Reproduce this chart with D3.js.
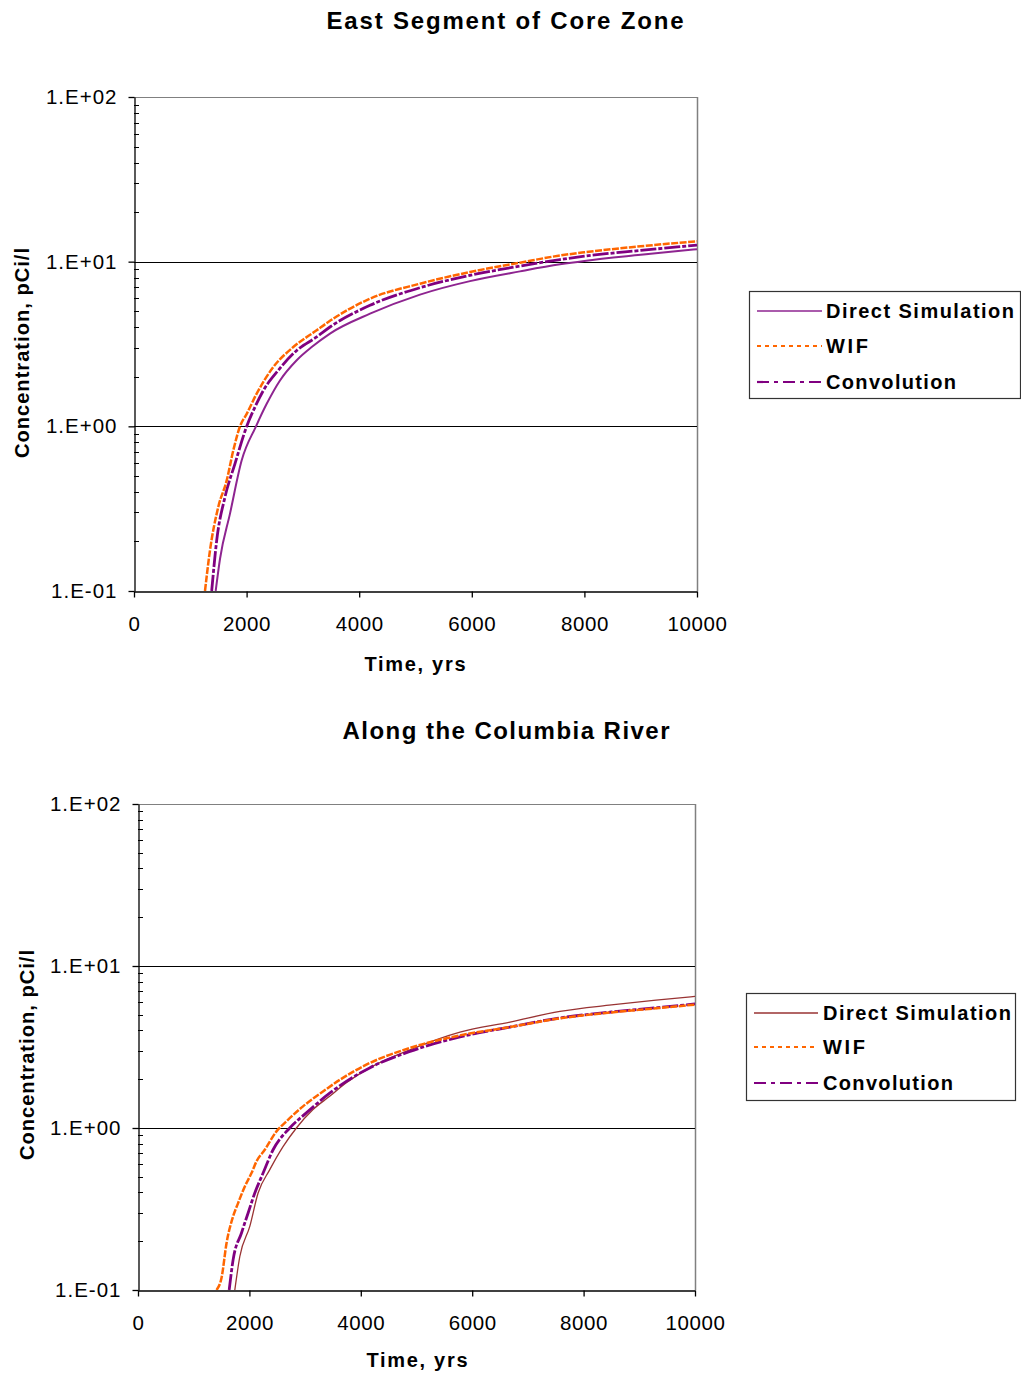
<!DOCTYPE html>
<html>
<head>
<meta charset="utf-8">
<script src="https://cdn.jsdelivr.net/npm/d3@7"></script>
<style>
  html, body { margin: 0; padding: 0; background: #fff; }
  svg { display: block; font-family: "Liberation Sans", Arial, sans-serif; }
</style>
</head>
<body>
<svg id="chart" width="1021" height="1375"></svg>
<script>
// ---------------- DATA ----------------
const xTicks = [0, 2000, 4000, 6000, 8000, 10000];
const yTicks = [0.1, 1, 10, 100];
const seriesNames = ["Direct Simulation", "WIF", "Convolution"];

// East Segment of Core Zone
const eastDirectT = [1451, 1528, 1705, 1913, 2167, 2357, 2593, 2890, 3156, 3481, 4192, 5080, 5968, 6856, 7567, 8000, 9000, 10000];
const eastDirectC = [0.1, 0.157, 0.295, 0.622, 1.0, 1.37, 1.90, 2.52, 3.03, 3.66, 4.83, 6.31, 7.62, 8.73, 9.63, 10.1, 11.0, 11.9];
const eastWifT = [1261, 1350, 1497, 1647, 1764, 1883, 2002, 2179, 2474, 2829, 3245, 3451, 4192, 5080, 5968, 6856, 7567, 8000, 9000, 10000];
const eastWifC = [0.1, 0.177, 0.324, 0.470, 0.715, 1.0, 1.19, 1.58, 2.29, 3.03, 3.83, 4.30, 5.96, 7.35, 8.65, 9.86, 10.9, 11.4, 12.4, 13.3];
const eastConvT = [1380, 1469, 1616, 1794, 2002, 2149, 2297, 2563, 2890, 3245, 3481, 4192, 5080, 5968, 6856, 7567, 8000, 9000, 10000];
const eastConvC = [0.1, 0.203, 0.372, 0.594, 1.0, 1.31, 1.65, 2.19, 2.89, 3.49, 4.01, 5.43, 6.95, 8.26, 9.40, 10.3, 10.8, 11.7, 12.6];

// Along the Columbia River
const riverDirectT = [1738, 1828, 2007, 2156, 2366, 2604, 2844, 3142, 3441, 3740, 4158, 4883, 5781, 6679, 7576, 8500, 9300, 10000];
const riverDirectC = [0.1, 0.161, 0.247, 0.397, 0.553, 0.767, 1.0, 1.30, 1.57, 1.90, 2.35, 3.04, 3.91, 4.51, 5.25, 5.75, 6.15, 6.49];
const riverWifT = [1410, 1500, 1590, 1708, 1797, 1918, 2038, 2127, 2276, 2486, 2665, 2963, 3321, 3679, 4099, 4883, 5781, 6679, 7576, 8500, 9300, 10000];
const riverWifC = [0.1, 0.119, 0.195, 0.285, 0.344, 0.436, 0.527, 0.622, 0.734, 0.953, 1.10, 1.36, 1.68, 2.04, 2.46, 3.12, 3.73, 4.20, 4.75, 5.17, 5.48, 5.78];
const riverConvT = [1637, 1708, 1858, 1977, 2097, 2246, 2425, 2724, 3023, 3441, 3740, 4158, 4883, 5781, 6679, 7576, 8500, 9300, 10000];
const riverConvC = [0.1, 0.154, 0.225, 0.299, 0.397, 0.527, 0.734, 1.0, 1.24, 1.64, 1.94, 2.35, 2.97, 3.65, 4.20, 4.78, 5.20, 5.52, 5.83];

const zip = (t, c) => t.map((v, i) => ({ t: v, c: c[i] }));

// ---------------- LAYOUT ----------------
const charts = [
  {
    title: "East Segment of Core Zone", titleX: 505, titleY: 29, titleLen: 357,
    x0: 134, x1: 697, yTop: 97, yBot: 591,
    xTitleX: 415, xTitleY: 671, yTitleX: 29, yTitleY: 353,
    legend: { x: 749, y: 291, w: 271, h: 107, lx0: 757, lx1: 822, tx: 826, rows: [311, 346, 382] },
    series: [
      { name: seriesNames[0], data: zip(eastDirectT, eastDirectC), color: "#8e2490", width: 2.0, dash: null, legDash: null },
      { name: seriesNames[1], data: zip(eastWifT, eastWifC), color: "#ff6600", width: 2.5, dash: "7,1.5", legDash: "4,4" },
      { name: seriesNames[2], data: zip(eastConvT, eastConvC), color: "#800080", width: 2.8, dash: "16,2,4,2", legDash: "12,5,4,5" }
    ]
  },
  {
    title: "Along the Columbia River", titleX: 506, titleY: 739, titleLen: 327,
    x0: 138, x1: 695, yTop: 804, yBot: 1290,
    xTitleX: 417, xTitleY: 1367, yTitleX: 34, yTitleY: 1055,
    legend: { x: 746, y: 993, w: 269, h: 107, lx0: 754, lx1: 818, tx: 823, rows: [1013, 1047, 1083] },
    series: [
      { name: seriesNames[0], data: zip(riverDirectT, riverDirectC), color: "#993333", width: 1.3, dash: null, legDash: null },
      { name: seriesNames[1], data: zip(riverWifT, riverWifC), color: "#ff6600", width: 2.5, dash: "7,1.5", legDash: "4,4" },
      { name: seriesNames[2], data: zip(riverConvT, riverConvC), color: "#800080", width: 2.8, dash: "16,2,4,2", legDash: "12,5,4,5" }
    ]
  }
];

const svg = d3.select("#chart");

function expLabel(v) {
  const e = Math.round(Math.log10(v));
  const s = e < 0 ? "-" : "+";
  return "1.E" + s + String(Math.abs(e)).padStart(2, "0");
}

charts.forEach((ch, ci) => {
  const x = d3.scaleLinear().domain([0, 10000]).range([ch.x0, ch.x1]);
  const y = d3.scaleLog().domain([0.1, 100]).range([ch.yBot, ch.yTop]);
  const g = svg.append("g");

  // title
  g.append("text")
    .attr("x", ch.titleX).attr("y", ch.titleY)
    .attr("text-anchor", "middle")
    .attr("font-size", 24).attr("font-weight", "bold")
    .attr("textLength", ch.titleLen).attr("lengthAdjust", "spacing")
    .text(ch.title);

  // clip
  const clipId = "clip" + ci;
  svg.append("clipPath").attr("id", clipId)
    .append("rect").attr("x", ch.x0).attr("y", ch.yTop)
    .attr("width", ch.x1 - ch.x0).attr("height", ch.yBot - ch.yTop);

  // plot frame: top & right gray
  g.append("line").attr("x1", ch.x0).attr("x2", ch.x1).attr("y1", y(100) + 0.5).attr("y2", y(100) + 0.5)
    .attr("stroke", "#808080").attr("stroke-width", 1.2);
  g.append("line").attr("x1", ch.x1 + 0.5).attr("x2", ch.x1 + 0.5).attr("y1", ch.yTop).attr("y2", ch.yBot)
    .attr("stroke", "#808080").attr("stroke-width", 1.5);

  // gridlines
  g.selectAll(".grid").data([1, 10]).enter().append("line")
    .attr("x1", ch.x0).attr("x2", ch.x1)
    .attr("y1", d => Math.round(y(d)) + 0.5).attr("y2", d => Math.round(y(d)) + 0.5)
    .attr("stroke", "#000").attr("stroke-width", 1);

  // series
  const line = d3.line().x(d => x(d.t)).y(d => y(d.c)).curve(d3.curveMonotoneX);
  const order = [0, 2, 1];
  order.forEach(si => {
    const s = ch.series[si];
    g.append("path").datum(s.data)
      .attr("clip-path", "url(#" + clipId + ")")
      .attr("fill", "none").attr("stroke", s.color)
      .attr("stroke-width", s.width)
      .attr("stroke-dasharray", s.dash)
      .attr("d", line);
  });

  // x axis
  const xAxis = d3.axisBottom(x).tickValues(xTicks).tickFormat(d3.format("d"))
    .tickSizeInner(6).tickSizeOuter(0).tickPadding(19);
  const xa = g.append("g").attr("transform", `translate(0,${ch.yBot + 0.5})`).call(xAxis);
  xa.select(".domain").attr("stroke", "#000").attr("stroke-width", 1.3);
  xa.selectAll(".tick line").attr("stroke", "#000").attr("stroke-width", 1.3);
  xa.selectAll("text").attr("font-size", 20.5).attr("fill", "#000")
    .attr("font-family", "Liberation Sans, Arial, sans-serif")
    .style("letter-spacing", "0.6px");

  // y axis
  const yAxis = d3.axisLeft(y).tickValues(yTicks).tickFormat(expLabel)
    .tickSizeInner(6).tickSizeOuter(0).tickPadding(11);
  const ya = g.append("g").attr("transform", `translate(${ch.x0 + 0.5},0)`).call(yAxis);
  ya.select(".domain").attr("stroke", "#000").attr("stroke-width", 1.3);
  ya.selectAll(".tick line").attr("stroke", "#000").attr("stroke-width", 1.3);
  ya.selectAll("text").attr("font-size", 20.5).attr("fill", "#000")
    .attr("font-family", "Liberation Sans, Arial, sans-serif")
    .style("letter-spacing", "1px");

  // minor ticks (inside)
  const minors = [];
  [0.1, 1, 10].forEach(b => { for (let k = 2; k <= 9; k++) minors.push(b * k); });
  g.selectAll(".minor").data(minors).enter().append("line")
    .attr("x1", ch.x0).attr("x2", ch.x0 + 5)
    .attr("y1", d => Math.round(y(d)) + 0.5).attr("y2", d => Math.round(y(d)) + 0.5)
    .attr("stroke", "#000").attr("stroke-width", 1);

  // axis titles
  g.append("text")
    .attr("x", ch.xTitleX).attr("y", ch.xTitleY)
    .attr("text-anchor", "middle").attr("font-size", 20).attr("font-weight", "bold")
    .attr("textLength", 101).attr("lengthAdjust", "spacing")
    .text("Time, yrs");
  g.append("text")
    .attr("transform", `translate(${ch.yTitleX},${ch.yTitleY}) rotate(-90)`)
    .attr("text-anchor", "middle").attr("font-size", 20).attr("font-weight", "bold")
    .attr("textLength", 210).attr("lengthAdjust", "spacing")
    .text("Concentration, pCi/l");

  // legend
  const L = ch.legend;
  g.append("rect").attr("x", L.x + 0.5).attr("y", L.y + 0.5)
    .attr("width", L.w).attr("height", L.h)
    .attr("fill", "#fff").attr("stroke", "#333").attr("stroke-width", 1.2);
  const legLens = [188, 42, 130];
  ch.series.forEach((s, i) => {
    const ly = L.rows[i];
    g.append("line").attr("x1", L.lx0).attr("x2", L.lx1).attr("y1", ly).attr("y2", ly)
      .attr("stroke", s.color).attr("stroke-width", Math.max(1.5, s.width - 0.6))
      .attr("stroke-dasharray", s.legDash);
    g.append("text").attr("x", L.tx).attr("y", ly + 7)
      .attr("font-size", 20).attr("font-weight", "bold")
      .attr("textLength", legLens[i]).attr("lengthAdjust", "spacing")
      .text(s.name);
  });
});
</script>
</body>
</html>
